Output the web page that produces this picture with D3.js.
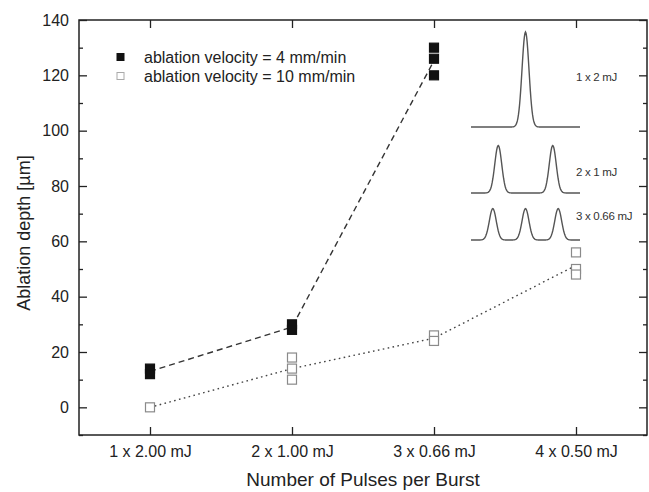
<!DOCTYPE html>
<html>
<head>
<meta charset="utf-8">
<script src="https://cdn.jsdelivr.net/npm/d3@7"></script>
<style>
  body { margin: 0; background: #fff; }
  svg { display: block; font-family: "Liberation Sans", Arial, sans-serif; }
</style>
</head>
<body>
<div id="chart"></div>
<script>
// categories on the x axis
const categories = ['1 x 2.00 mJ', '2 x 1.00 mJ', '3 x 0.66 mJ', '4 x 0.50 mJ'];

// ablation depth (µm), individual measurements per category
const slowDepths = [[14, 12], [30, 28], [130, 126, 120], []];          // 4 mm/min
const fastDepths = [[0], [18, 14, 10], [26, 24], [56, 50, 48]];        // 10 mm/min

const seriesNames = ['ablation velocity = 4 mm/min', 'ablation velocity = 10 mm/min'];

const yMajorTicks = [0, 20, 40, 60, 80, 100, 120, 140];
const yMinorTicks = [-10, 10, 30, 50, 70, 90, 110, 130];

// inset: pulse trains per burst
const insetLabels = ['1 x 2 mJ', '2 x 1 mJ', '3 x 0.66 mJ'];
const insetEnergy = [2, 1, 0.66];
const insetPeaks = [[0.5], [0.25, 0.75], [0.2, 0.5, 0.8]];

const width = 649, height = 492;
const margin = {top: 20, right: 2, bottom: 57, left: 79};

const svg = d3.select('#chart').append('svg')
  .attr('width', width)
  .attr('height', height);

const x = d3.scalePoint()
  .domain(categories)
  .range([margin.left, width - margin.right])
  .padding(0.5);

const y = d3.scaleLinear()
  .domain([-10, 140])
  .range([height - margin.bottom, margin.top]);

const axisColor = '#222';

// frame
svg.append('rect')
  .attr('x', margin.left)
  .attr('y', margin.top)
  .attr('width', width - margin.right - margin.left)
  .attr('height', height - margin.bottom - margin.top)
  .attr('fill', 'none')
  .attr('stroke', axisColor)
  .attr('stroke-width', 1.5);

function styleAxis(g) {
  g.select('.domain').remove();
  g.selectAll('line').attr('stroke', axisColor).attr('stroke-width', 1.3);
  g.selectAll('text')
    .attr('fill', '#222')
    .style('font-size', '16px');
}

// left axis, major + minor
svg.append('g')
  .attr('transform', `translate(${margin.left},0)`)
  .call(d3.axisLeft(y).tickValues(yMajorTicks).tickSize(-8).tickPadding(10))
  .call(styleAxis);
svg.append('g')
  .attr('transform', `translate(${margin.left},0)`)
  .call(d3.axisLeft(y).tickValues(yMinorTicks).tickSize(-4).tickFormat(''))
  .call(styleAxis);

// right axis ticks (no labels)
svg.append('g')
  .attr('transform', `translate(${width - margin.right},0)`)
  .call(d3.axisRight(y).tickValues(yMajorTicks).tickSize(-8).tickFormat(''))
  .call(styleAxis);
svg.append('g')
  .attr('transform', `translate(${width - margin.right},0)`)
  .call(d3.axisRight(y).tickValues(yMinorTicks).tickSize(-4).tickFormat(''))
  .call(styleAxis);

// bottom axis
svg.append('g')
  .attr('transform', `translate(0,${height - margin.bottom})`)
  .call(d3.axisBottom(x).tickSize(-8).tickPadding(11))
  .call(styleAxis);

// top axis ticks
svg.append('g')
  .attr('transform', `translate(0,${margin.top})`)
  .call(d3.axisTop(x).tickSize(-8).tickFormat(''))
  .call(styleAxis);

// axis titles
svg.append('text')
  .attr('x', (margin.left + width - margin.right) / 2)
  .attr('y', 486)
  .attr('text-anchor', 'middle')
  .style('font-size', '19px')
  .attr('fill', '#222')
  .text('Number of Pulses per Burst');

svg.append('text')
  .attr('transform', `translate(30,233) rotate(-90)`)
  .attr('text-anchor', 'middle')
  .style('font-size', '18px')
  .attr('fill', '#222')
  .text('Ablation depth [µm]');

// series
const series = [
  {values: slowDepths, fill: '#111', stroke: '#111', line: '#333', dash: '6,4'},
  {values: fastDepths, fill: '#fff', stroke: '#8a8a8a', line: '#444', dash: '1.6,3.4'}
];

const markerSize = 9;

series.forEach(s => {
  const means = s.values
    .map((vals, i) => ({cat: categories[i], v: d3.mean(vals)}))
    .filter(d => d.v !== undefined);

  svg.append('path')
    .datum(means)
    .attr('fill', 'none')
    .attr('stroke', s.line)
    .attr('stroke-width', 1.4)
    .attr('stroke-dasharray', s.dash)
    .attr('d', d3.line().x(d => x(d.cat)).y(d => y(d.v)));

  const pts = s.values.flatMap((vals, i) => vals.map(v => ({cat: categories[i], v})));
  svg.append('g').selectAll('rect')
    .data(pts)
    .join('rect')
    .attr('x', d => x(d.cat) - markerSize / 2)
    .attr('y', d => y(d.v) - markerSize / 2)
    .attr('width', markerSize)
    .attr('height', markerSize)
    .attr('fill', s.fill)
    .attr('stroke', s.stroke)
    .attr('stroke-width', 1.2);
});

// legend
const legend = svg.append('g');
seriesNames.forEach((name, i) => {
  const ly = 57 + i * 19;
  legend.append('rect')
    .attr('x', 117).attr('y', ly - 3.5)
    .attr('width', 7).attr('height', 7)
    .attr('fill', series[i].fill)
    .attr('stroke', i === 0 ? '#111' : '#aaa')
    .attr('stroke-width', 1);
  legend.append('text')
    .attr('x', 144).attr('y', ly + 5.5)
    .style('font-size', '16px')
    .attr('fill', '#222')
    .text(name);
});

// inset: burst pulse shapes
const inset = svg.append('g');
const ix = d3.scaleLinear().domain([0, 1]).range([471, 580]);
const amp = d3.scaleLinear().domain([0, 2]).range([0, 95]);
const baselines = [127, 193, 240];
const labelY = [81, 176, 220];
const sigma = 0.032;
const ts = d3.range(0, 1.0001, 0.005);

insetPeaks.forEach((peaks, i) => {
  const curve = ts.map(t => ({
    t,
    a: d3.sum(peaks, p => insetEnergy[i] * Math.exp(-((t - p) ** 2) / (2 * sigma * sigma)))
  }));
  inset.append('path')
    .datum(curve)
    .attr('fill', 'none')
    .attr('stroke', '#555')
    .attr('stroke-width', 1.4)
    .attr('d', d3.line().x(d => ix(d.t)).y(d => baselines[i] - amp(d.a)));
  inset.append('text')
    .attr('x', 576).attr('y', labelY[i])
    .style('font-size', '11.5px')
    .style('letter-spacing', '-0.3px')
    .attr('fill', '#333')
    .text(insetLabels[i]);
});
</script>
</body>
</html>
